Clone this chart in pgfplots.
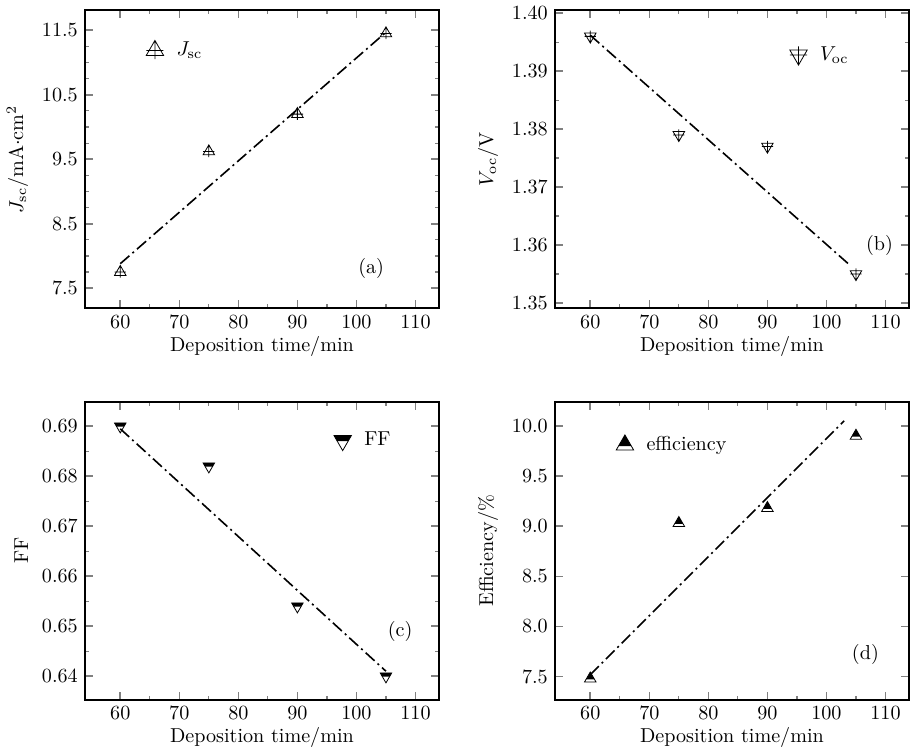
\documentclass[border=0pt]{standalone}
\usepackage{pgfplots}
\pgfplotsset{compat=1.18}
\usepgfplotslibrary{groupplots}

% triangle marks with a cross, and half-filled triangles
\pgfdeclareplotmark{tuplus}{%
  \pgfpathmoveto{\pgfqpoint{0pt}{\pgfplotmarksize}}%
  \pgfpathlineto{\pgfqpoint{0.866\pgfplotmarksize}{-0.5\pgfplotmarksize}}%
  \pgfpathlineto{\pgfqpoint{-0.866\pgfplotmarksize}{-0.5\pgfplotmarksize}}%
  \pgfpathclose
  \pgfpathmoveto{\pgfqpoint{0pt}{\pgfplotmarksize}}%
  \pgfpathlineto{\pgfqpoint{0pt}{-0.85\pgfplotmarksize}}%
  \pgfpathmoveto{\pgfqpoint{-0.85\pgfplotmarksize}{0pt}}%
  \pgfpathlineto{\pgfqpoint{0.85\pgfplotmarksize}{0pt}}%
  \pgfusepathqstroke}
\pgfdeclareplotmark{tdplus}{%
  \pgfpathmoveto{\pgfqpoint{0pt}{-\pgfplotmarksize}}%
  \pgfpathlineto{\pgfqpoint{0.866\pgfplotmarksize}{0.5\pgfplotmarksize}}%
  \pgfpathlineto{\pgfqpoint{-0.866\pgfplotmarksize}{0.5\pgfplotmarksize}}%
  \pgfpathclose
  \pgfpathmoveto{\pgfqpoint{0pt}{-\pgfplotmarksize}}%
  \pgfpathlineto{\pgfqpoint{0pt}{0.85\pgfplotmarksize}}%
  \pgfpathmoveto{\pgfqpoint{-0.85\pgfplotmarksize}{0pt}}%
  \pgfpathlineto{\pgfqpoint{0.85\pgfplotmarksize}{0pt}}%
  \pgfusepathqstroke}
\pgfdeclareplotmark{tdhalf}{%
  \pgfpathmoveto{\pgfqpoint{-0.866\pgfplotmarksize}{0.5\pgfplotmarksize}}%
  \pgfpathlineto{\pgfqpoint{0.866\pgfplotmarksize}{0.5\pgfplotmarksize}}%
  \pgfpathlineto{\pgfqpoint{0.55\pgfplotmarksize}{-0.05\pgfplotmarksize}}%
  \pgfpathlineto{\pgfqpoint{-0.55\pgfplotmarksize}{-0.05\pgfplotmarksize}}%
  \pgfpathclose
  \pgfusepathqfill
  \pgfpathmoveto{\pgfqpoint{0pt}{-\pgfplotmarksize}}%
  \pgfpathlineto{\pgfqpoint{0.866\pgfplotmarksize}{0.5\pgfplotmarksize}}%
  \pgfpathlineto{\pgfqpoint{-0.866\pgfplotmarksize}{0.5\pgfplotmarksize}}%
  \pgfpathclose
  \pgfusepathqstroke}
\pgfdeclareplotmark{tuhalf}{%
  \pgfpathmoveto{\pgfqpoint{0pt}{\pgfplotmarksize}}%
  \pgfpathlineto{\pgfqpoint{0.635\pgfplotmarksize}{-0.1\pgfplotmarksize}}%
  \pgfpathlineto{\pgfqpoint{-0.635\pgfplotmarksize}{-0.1\pgfplotmarksize}}%
  \pgfpathclose
  \pgfusepathqfill
  \pgfpathmoveto{\pgfqpoint{0pt}{\pgfplotmarksize}}%
  \pgfpathlineto{\pgfqpoint{0.866\pgfplotmarksize}{-0.5\pgfplotmarksize}}%
  \pgfpathlineto{\pgfqpoint{-0.866\pgfplotmarksize}{-0.5\pgfplotmarksize}}%
  \pgfpathclose
  \pgfusepathqstroke}

\pgfplotsset{
  fitline/.style={black, line width=0.8pt, dash pattern=on 6pt off 2pt on 1pt off 2pt},
  pts/.style={black, only marks, mark size=3.3pt, mark options={solid, line width=0.4pt}},
}

\begin{document}
\begin{tikzpicture}
\begin{groupplot}[
  group style={group size=2 by 2, horizontal sep=57.5pt, vertical sep=46.5pt},
  scale only axis, width=176pt, height=148pt,
  axis line style={line width=0.9pt},
  major tick style={line width=0.8pt}, minor tick style={line width=0.6pt},
  major tick length=4pt, minor tick length=2pt,
  tick align=inside,
  xmin=54, xmax=114, xtick={60,70,...,110}, minor x tick num=1,
  xlabel={Deposition time/min},
  xlabel style={yshift=3pt},
  legend style={draw=none, fill=none, font=\normalsize},
  legend image code/.code={%
    \path (0cm,0cm) (0.6cm,0cm);
    \draw[#1, mark size=5pt] plot coordinates {(0.3cm,0cm)};},
]
% (a)
\nextgroupplot[ymin=7.19, ymax=11.81, ytick={7.5,8.5,...,11.5}, minor y tick num=3,
  yticklabel style={/pgf/number format/.cd, fixed, fixed zerofill, precision=1},
  ylabel={$J_{\rm sc}$/mA$\cdot$cm$^2$},
  legend style={at={(rel axis cs:0.13,0.865)}, anchor=west}]
\addplot[pts, mark=tuplus] coordinates {(60,7.75) (75,9.62) (90,10.2) (105,11.45)};
\addlegendentry{$J_{\rm sc}$}
\addplot[fitline, forget plot] coordinates {(60,7.88) (105,11.47)};
\node at (axis cs:102.5,7.81) {(a)};
% (b)
\nextgroupplot[ymin=1.3491, ymax=1.4005, ytick={1.35,1.36,...,1.40}, minor y tick num=1,
  yticklabel style={/pgf/number format/.cd, fixed, fixed zerofill, precision=2},
  ylabel={$V_{\rm oc}$/V},
  legend style={at={(rel axis cs:0.62,0.85)}, anchor=west}]
\addplot[pts, mark=tdplus] coordinates {(60,1.396) (75,1.379) (90,1.377) (105,1.355)};
\addlegendentry{$V_{\rm oc}$}
\addplot[fitline, forget plot] coordinates {(60,1.3962) (104,1.3565)};
\node at (axis cs:109,1.3600) {(b)};
% (c)
\nextgroupplot[ymin=0.6353, ymax=0.6949, ytick={0.64,0.65,...,0.69}, minor y tick num=1,
  yticklabel style={/pgf/number format/.cd, fixed, fixed zerofill, precision=2},
  ylabel={FF},
  legend style={at={(rel axis cs:0.66,0.87)}, anchor=west}]
\addplot[pts, mark=tdhalf] coordinates {(60,0.690) (75,0.682) (90,0.654) (105,0.640)};
\addlegendentry{FF}
\addplot[fitline, forget plot] coordinates {(60,0.6895) (105,0.641)};
\node at (axis cs:107.4,0.6489) {(c)};
% (d)
\nextgroupplot[ymin=7.27, ymax=10.24, ytick={7.5,8.0,...,10.0},
  yticklabel style={/pgf/number format/.cd, fixed, fixed zerofill, precision=1},
  ylabel={Efficiency/\%},
  legend style={at={(rel axis cs:0.13,0.855)}, anchor=west}]
\addplot[pts, mark=tuhalf] coordinates {(60,7.48) (75,9.03) (90,9.18) (105,9.9)};
\addlegendentry{efficiency}
\addplot[fitline, forget plot] coordinates {(60,7.52) (103,10.05)};
\node at (axis cs:106.6,7.72) {(d)};
\end{groupplot}
\end{tikzpicture}
\end{document}
